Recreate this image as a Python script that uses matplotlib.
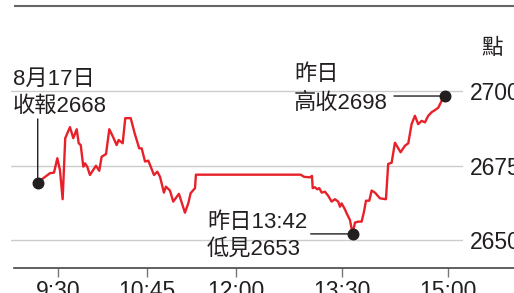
import matplotlib
matplotlib.use('Agg')
import matplotlib.pyplot as plt
from matplotlib.lines import Line2D

# 恒指走勢 (minutes after 9:30, index points)
minutes = [-17.4, -12.7, -7.0, -3.6, -0.8, 1.4, 3.7, 5.9, 9.9, 12.7, 15.6, 17.3, 19.0,
           21.2, 22.6, 24.5, 26.8, 29.1, 31.9, 34.7, 36.7, 40.4, 43.2, 46.5, 49.4, 51.1,
           54.5, 56.7, 61.3, 64.6, 68.5, 70.6, 73.4, 76.2, 81.0, 83.8, 86.1, 89.4, 91.1,
           94.5, 97.3, 102.1, 107.2, 110.0, 112.0, 115.7, 116.5, 205.1, 207.9, 213.0,
           214.7, 215.3, 217.2, 219.2, 220.9, 222.9, 225.7, 228.5, 231.3, 234.1, 236.9,
           238.4, 239.8, 242.6, 244.0, 246.8, 249.1, 251.1, 253.9, 256.7, 258.7, 260.4,
           263.2, 265.2, 268.0, 272.2, 277.3, 279.2, 282.1, 284.9, 289.7, 293.4, 296.2,
           299.0, 301.8, 304.6, 307.5, 310.3, 313.1, 316.0, 318.8, 321.6, 324.4, 327.2]
points = [2669.3, 2670.8, 2672.5, 2672.7, 2677.5, 2673.6, 2663.8, 2684.2, 2687.9, 2684.2,
          2687.2, 2682.5, 2681.9, 2674.7, 2675.8, 2674.7, 2671.9, 2673.3, 2675.0, 2673.3,
          2678.0, 2678.9, 2687.2, 2684.5, 2681.9, 2683.6, 2682.5, 2690.9, 2690.9, 2685.9,
          2680.8, 2680.8, 2676.4, 2676.7, 2671.9, 2673.0, 2671.3, 2666.0, 2668.0, 2666.7,
          2663.0, 2665.6, 2659.3, 2662.4, 2665.8, 2667.5, 2672.0, 2672.0, 2671.3, 2671.1,
          2671.6, 2667.5, 2667.8, 2667.1, 2667.5, 2666.0, 2666.3, 2664.9, 2663.0, 2663.8,
          2663.0, 2661.3, 2662.4, 2660.4, 2659.1, 2656.9, 2652.2, 2656.0, 2656.3, 2656.3,
          2659.6, 2663.3, 2663.3, 2666.7, 2666.0, 2664.1, 2663.8, 2675.6, 2676.0, 2682.7,
          2679.5, 2681.7, 2682.5, 2688.9, 2691.7, 2688.9, 2690.0, 2689.5, 2691.7, 2692.9,
          2693.6, 2694.4, 2696.7, 2698.3]

tick_pos = [0, 75, 150, 240, 330]
tick_labels = ['9:30', '10:45', '12:00', '13:30', '15:00']
y_ticks = [2650, 2675, 2700]
unit = '點'

RED = '#e8202a'
INK = '#231f20'
fam_txt = ['Liberation Sans', 'Noto Sans CJK TC']
fam_tick = ['Liberation Sans Narrow', 'Liberation Sans', 'Noto Sans CJK TC']

fig = plt.figure(figsize=(5.14, 2.93), dpi=100)
ax = fig.add_axes([11 / 514, 25.3 / 293, 452 / 514, 261.7 / 293])
ax.set_xlim(-40.0, 342.5)
ax.set_ylim(2640.9, 2728.4)

for s in ax.spines.values():
    s.set_visible(False)
for y in y_ticks:
    ax.axhline(y, color='#cccccc', lw=1, zorder=1)

ax.plot(minutes, points, color=RED, lw=1.7, zorder=3)

# 標記點
i_low = points.index(min(points))
for i in [0, i_low, len(points) - 1]:
    ax.plot(minutes[i], points[i], 'o', color=INK, ms=7.6, zorder=4)

ax.set_xticks(tick_pos)
ax.set_xticklabels(tick_labels, family=fam_tick, fontsize=16.5, color=INK)
ax.tick_params(axis='x', length=6.5, width=1, color='#777777', pad=2)
ax.yaxis.tick_right()
ax.set_yticks(y_ticks)
ax.set_yticklabels([str(y) for y in y_ticks], family=fam_tick, fontsize=16.5, color=INK)
ax.tick_params(axis='y', length=0, pad=5)

# 頂線 / 底線
fig.add_artist(Line2D([15 / 514, 1], [1 - 6 / 293] * 2, color='#666666', lw=1.5))
fig.add_artist(Line2D([14 / 514, 1], [25.3 / 293] * 2, color='#444444', lw=1.2))

fig.text(492 / 514, 1 - 49 / 293, unit, family=fam_txt, fontsize=15.5,
         color=INK, ha='center', va='center')

def note(i, lines, dx, dys, conn):
    xy = (minutes[i], points[i])
    ax.annotate('', xy=xy, xytext=conn, textcoords='offset points',
                arrowprops=dict(arrowstyle='-', color=INK, lw=1, shrinkA=0, shrinkB=0))
    for txt, dy in zip(lines, dys):
        ax.annotate(txt, xy=xy, xytext=(dx, dy), textcoords='offset points',
                    ha='left', va='center', family=fam_txt, fontsize=16,
                    color=INK, annotation_clip=False)

note(0, ['8月17日', '收報2668'], -17.8, [74.7, 55.2], (0, 45.9))
note(len(points) - 1, ['昨日', '高收2698'], -108.7, [15.8, -5.0], (-36.7, 0))
note(i_low, ['昨日13:42', '低見2653'], -104.9, [8.1, -11.3], (-30.2, 0))

fig.savefig('out.png', dpi=100)
